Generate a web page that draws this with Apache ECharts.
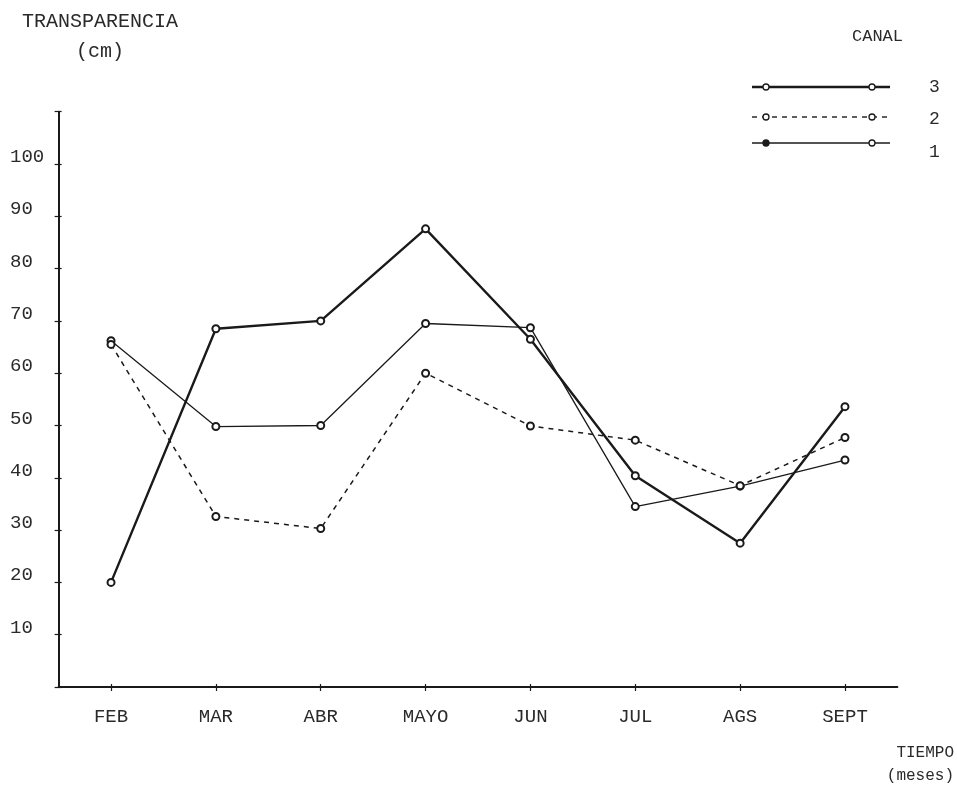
<!DOCTYPE html>
<html>
<head>
<meta charset="utf-8">
<title>Transparencia por canal</title>
<script src="https://cdn.jsdelivr.net/npm/echarts@6/dist/echarts.min.js"></script>
<style>
  html, body { margin: 0; padding: 0; background: #ffffff; }
  #chart { width: 957px; height: 790px; }
</style>
</head>
<body>
<div id="chart"></div>
<script>
// Meses de muestreo
var meses = ['FEB', 'MAR', 'ABR', 'MAYO', 'JUN', 'JUL', 'AGS', 'SEPT'];

// Transparencia (cm) por canal
var canal3 = [20, 68.5, 70, 87.6, 66.5, 40.4, 27.5, 53.6];
var canal2 = [65.5, 32.6, 30.3, 60, 49.9, 47.2, 38.5, 47.7];
var canal1 = [66.2, 49.8, 50, 69.5, 68.7, 34.5, 38.4, 43.4];

// Marcas del eje vertical
var marcasY = [10, 20, 30, 40, 50, 60, 70, 80, 90, 100];

var FONT = '"Liberation Mono", "DejaVu Sans Mono", monospace';
var INK = '#1a1a1a';
var TEXT = '#2a2a2a';

var chart = echarts.init(document.getElementById('chart'), null, { renderer: 'canvas' });

function serie(name, data, width, type, z) {
  return {
    name: name,
    type: 'line',
    data: data,
    z: z,
    symbol: 'emptyCircle',
    symbolSize: 7,
    showSymbol: true,
    lineStyle: { color: INK, width: width, type: type },
    itemStyle: { color: INK, borderColor: INK, borderWidth: 1.4 },
    emphasis: { disabled: true },
    animation: false
  };
}

// Muestra de la leyenda: línea con un círculo en cada extremo
function muestra(y, width, dash, leftFilled) {
  return [
    { type: 'line', shape: { x1: 752, y1: y, x2: 890, y2: y },
      style: { stroke: INK, lineWidth: width, lineDash: dash } },
    { type: 'circle', shape: { cx: 766, cy: y, r: 3 },
      style: { fill: leftFilled ? INK : '#fff', stroke: INK, lineWidth: 1.3 } },
    { type: 'circle', shape: { cx: 872, cy: y, r: 3 },
      style: { fill: '#fff', stroke: INK, lineWidth: 1.3 } }
  ];
}

var textos = [
  { type: 'text', left: 22, top: 12,
    style: { text: 'TRANSPARENCIA', font: '20px ' + FONT, fill: TEXT } },
  { type: 'text', left: 76, top: 42,
    style: { text: '(cm)', font: '20px ' + FONT, fill: TEXT } },
  { type: 'text', left: 852, top: 28,
    style: { text: 'CANAL', font: '17px ' + FONT, fill: TEXT } },
  { type: 'text', left: 929, top: 78,
    style: { text: '3', font: '18px ' + FONT, fill: TEXT } },
  { type: 'text', left: 929, top: 110,
    style: { text: '2', font: '18px ' + FONT, fill: TEXT } },
  { type: 'text', left: 929, top: 143,
    style: { text: '1', font: '18px ' + FONT, fill: TEXT } },
  { type: 'text', right: 3, top: 745,
    style: { text: 'TIEMPO', font: '16px ' + FONT, fill: TEXT } },
  { type: 'text', right: 3, top: 768,
    style: { text: '(meses)', font: '16px ' + FONT, fill: TEXT } }
];

var leyenda = [].concat(
  muestra(87, 2.4, null, false),
  muestra(117, 1.4, [5, 5], false),
  muestra(143, 1.3, null, true)
);

var option = {
  backgroundColor: '#ffffff',
  animation: false,
  grid: { left: 58.6, right: 59.6, top: 111.7, bottom: 103 },
  xAxis: [
    {
      type: 'category',
      data: meses,
      boundaryGap: true,
      position: 'bottom',
      axisLine: { show: true, lineStyle: { color: INK, width: 2 } },
      axisTick: { show: true, alignWithLabel: true, length: 4, lineStyle: { color: INK, width: 1.2 } },
      axisLabel: { color: TEXT, fontFamily: FONT, fontSize: 19, margin: 20 },
      splitLine: { show: false }
    },
    {
      type: 'category',
      data: meses,
      boundaryGap: true,
      position: 'bottom',
      axisLine: { show: false },
      axisTick: { show: true, inside: true, alignWithLabel: true, length: 3, lineStyle: { color: INK, width: 1.2 } },
      axisLabel: { show: false },
      splitLine: { show: false }
    }
  ],
  yAxis: [
    {
      type: 'value',
      min: 0,
      max: 110,
      interval: 10,
      position: 'left',
      axisLine: { show: true, lineStyle: { color: INK, width: 2 } },
      axisTick: { show: true, length: 4, lineStyle: { color: INK, width: 1.2 } },
      axisLabel: {
        color: TEXT, fontFamily: FONT, fontSize: 19,
        align: 'left', margin: 48.6,
        verticalAlign: 'bottom', lineHeight: 14,
        formatter: function (v) { return marcasY.indexOf(v) >= 0 ? String(v) : ''; }
      },
      splitLine: { show: false }
    },
    {
      type: 'value',
      min: 0,
      max: 110,
      interval: 10,
      position: 'left',
      axisLine: { show: false },
      axisTick: { show: true, inside: true, length: 3, lineStyle: { color: INK, width: 1.2 } },
      axisLabel: { show: false },
      splitLine: { show: false }
    }
  ],
  series: [
    serie('1', canal1, 1.3, 'solid', 3),
    serie('2', canal2, 1.5, [5, 5], 4),
    serie('3', canal3, 2.4, 'solid', 5)
  ],
  graphic: textos.concat(leyenda)
};

chart.setOption(option);
</script>
</body>
</html>
